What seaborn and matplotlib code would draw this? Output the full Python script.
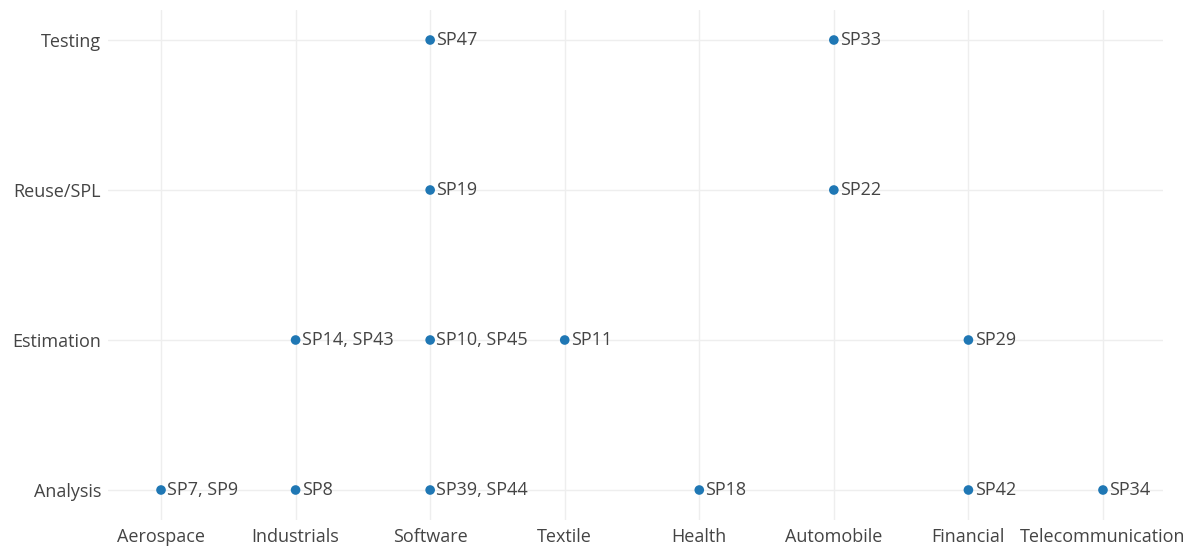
import pandas as pd
import matplotlib
matplotlib.use('Agg')
import matplotlib.pyplot as plt
import seaborn as sns

# categories
domains = ['Aerospace', 'Industrials', 'Software', 'Textile', 'Health',
           'Automobile', 'Financial', 'Telecommunication']
areas = ['Analysis', 'Estimation', 'Reuse/SPL', 'Testing']

# points: domain, area, study labels
pt_domain = ['Software', 'Automobile',
             'Software', 'Automobile',
             'Industrials', 'Software', 'Textile', 'Financial',
             'Aerospace', 'Industrials', 'Software', 'Health', 'Financial', 'Telecommunication']
pt_area = ['Testing', 'Testing',
           'Reuse/SPL', 'Reuse/SPL',
           'Estimation', 'Estimation', 'Estimation', 'Estimation',
           'Analysis', 'Analysis', 'Analysis', 'Analysis', 'Analysis', 'Analysis']
pt_label = ['SP47', 'SP33',
            'SP19', 'SP22',
            'SP14, SP43', 'SP10, SP45', 'SP11', 'SP29',
            'SP7, SP9', 'SP8', 'SP39, SP44', 'SP18', 'SP42', 'SP34']

df = pd.DataFrame({'domain': pt_domain, 'area': pt_area, 'label': pt_label})
df['x'] = df['domain'].map({d: i for i, d in enumerate(domains)})
df['y'] = df['area'].map({a: i for i, a in enumerate(areas)})

sns.set_theme(style="white")
plt.rcParams['font.family'] = ['Open Sans', 'DejaVu Sans']

fig = plt.figure(figsize=(11.91, 5.48), dpi=100)
ax = fig.add_axes([108 / 1191, 1 - 520 / 548, (1163 - 108) / 1191, 510 / 548])

sns.scatterplot(data=df, x='x', y='y', color='#1f77b4', s=48, edgecolor='none',
                ax=ax, zorder=3)
for _, r in df.iterrows():
    ax.annotate(r['label'], (r['x'], r['y']), xytext=(4.5, 0), textcoords='offset points',
                va='center', ha='left', fontsize=13, color='#444444')

ax.set_xticks(range(len(domains)))
ax.set_xticklabels(domains)
ax.set_yticks(range(len(areas)))
ax.set_yticklabels(areas)
ax.set_xlim(-0.394, 7.446)
ax.set_ylim(-0.2, 3.2)
ax.set_xlabel('')
ax.set_ylabel('')
ax.grid(True, color='#eeeeee', linewidth=1)
ax.set_axisbelow(True)
for s in ax.spines.values():
    s.set_visible(False)
ax.tick_params(axis='both', length=0, labelsize=13, labelcolor='#444444')
ax.tick_params(axis='x', pad=6)
ax.tick_params(axis='y', pad=5)

fig.savefig('out.png', dpi=100)
